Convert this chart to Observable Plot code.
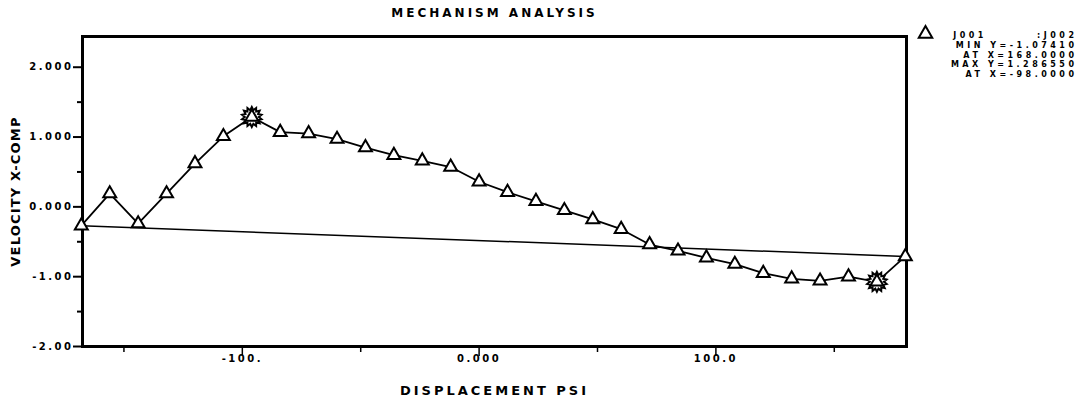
<!DOCTYPE html>
<html>
<head>
<meta charset="utf-8">
<script src="https://cdn.jsdelivr.net/npm/d3@7"></script>
<script src="https://cdn.jsdelivr.net/npm/@observablehq/plot@0.6"></script>
<style>
  html, body { margin: 0; padding: 0; background: #fff; }
  #chart { width: 1088px; height: 400px; }
</style>
</head>
<body>
<div id="chart"></div>
<script>
// ---- data ----
const xValues = [-168, -156, -144, -132, -120, -108, -96, -84, -72, -60, -48, -36, -24, -12, 0,
                 12, 24, 36, 48, 60, 72, 84, 96, 108, 120, 132, 144, 156, 168, 180];
const yValues = [-0.27, 0.19, -0.24, 0.19, 0.62, 1.01, 1.287, 1.07, 1.05, 0.97, 0.85, 0.74, 0.66, 0.57, 0.36,
                 0.21, 0.08, -0.05, -0.18, -0.32, -0.54, -0.63, -0.73, -0.82, -0.95, -1.03, -1.06, -1.00, -1.074, -0.71];
const yTicks = [-2, -1, 0, 1, 2];
const yTickLabels = ["-2.00", "-1.00", "0.000", "1.000", "2.000"];
const yMinorTicks = [-1.5, -0.5, 0.5, 1.5];
const xTicks = [-100, 0, 100];
const xTickLabels = ["-100.", "0.000", "100.0"];
const xMinorTicks = [-150, -50, 50, 150];
const title = "MECHANISM ANALYSIS";
const xTitle = "DISPLACEMENT PSI";
const yTitle = "VELOCITY X-COMP";
const legendLines = ["J001        :J002", "MIN Y=-1.07410", "AT X=168.0000", "MAX Y=1.286550", "AT X=-98.0000"];

const data = xValues.map((x, i) => ({x, y: yValues[i]}));
const closing = [data[0], data[data.length - 1]];
const extremes = [data[d3.maxIndex(data, d => d.y)], data[d3.minIndex(data, d => d.y)]];

const sunburst = {
  draw(context, size) {
    const R = Math.sqrt(size / Math.PI);
    const n = 14;
    for (let i = 0; i < 2 * n; i++) {
      const r = i % 2 === 0 ? R : R * 0.7;
      const a = Math.PI * i / n;
      const px = r * Math.sin(a), py = -r * Math.cos(a);
      if (i === 0) context.moveTo(px, py); else context.lineTo(px, py);
    }
    context.closePath();
  }
};

const chart = Plot.plot({
  width: 1088,
  height: 400,
  marginTop: 36,
  marginBottom: 54,
  marginLeft: 82,
  marginRight: 182,
  style: {fontFamily: "'DejaVu Sans', sans-serif", fontWeight: "bold", fontSize: "10px",
          letterSpacing: "2.5px", background: "#fff", color: "#000"},
  x: {domain: [-167.5, 180.5]},
  y: {domain: [-2, 2.44]},
  marks: [
    Plot.axisY(yTicks, {tickFormat: d => yTickLabels[yTicks.indexOf(d)], tickSize: 9, tickPadding: 0,
                        strokeWidth: 2, fontSize: 10, label: null}),
    Plot.axisY(yMinorTicks, {tickFormat: () => "", tickSize: 5, strokeWidth: 2, label: null}),
    Plot.axisX(xTicks, {tickFormat: d => xTickLabels[xTicks.indexOf(d)], tickSize: 10, tickPadding: -2,
                        strokeWidth: 1.5, fontSize: 10, label: null}),
    Plot.axisX(xMinorTicks, {tickFormat: () => "", tickSize: 6, strokeWidth: 1.5, label: null}),
    Plot.frame({stroke: "#000", strokeWidth: 3}),
    Plot.line(closing, {x: "x", y: "y", stroke: "#000", strokeWidth: 1.5}),
    Plot.line(data, {x: "x", y: "y", stroke: "#000", strokeWidth: 1.8}),
    Plot.dot(extremes, {x: "x", y: "y", symbol: sunburst, r: 10, fill: "#fff", stroke: "#000", strokeWidth: 2}),
    Plot.dot(data, {x: "x", y: "y", symbol: "triangle", r: 4.8, fill: "#fff", stroke: "#000", strokeWidth: 2}),
    Plot.text([title], {frameAnchor: "top", dy: -23.3, textAnchor: "middle", lineAnchor: "middle", fontSize: 12,
                        ariaDescription: "title"}),
    Plot.text([xTitle], {frameAnchor: "bottom", dy: 44, textAnchor: "middle", lineAnchor: "middle", fontSize: 13,
                         ariaDescription: "xtitle"}),
    Plot.text([yTitle], {frameAnchor: "left", dx: -67, rotate: -90, textAnchor: "middle", lineAnchor: "middle",
                         fontSize: 13, ariaDescription: "ytitle"}),
    Plot.dot([0], {frameAnchor: "top-right", dx: 19, dy: -2.7, symbol: "triangle", r: 5,
                   fill: "#fff", stroke: "#000", strokeWidth: 2}),
    Plot.text([legendLines.join("\n")], {frameAnchor: "top-right", dx: 171, dy: -5, textAnchor: "end",
                   lineAnchor: "top", lineHeight: 1.2, fontSize: 8, ariaDescription: "legend"})
  ]
});

document.getElementById("chart").appendChild(chart);
const svg = d3.select(chart);
svg.selectAll('[aria-description="title"]').style("letter-spacing", "3px");
svg.selectAll('[aria-description="xtitle"]').style("letter-spacing", "3px");
svg.selectAll('[aria-description="ytitle"]').style("letter-spacing", "1.2px");
svg.selectAll('[aria-description="legend"]').style("letter-spacing", "3.5px").style("white-space", "pre");
</script>
</body>
</html>
